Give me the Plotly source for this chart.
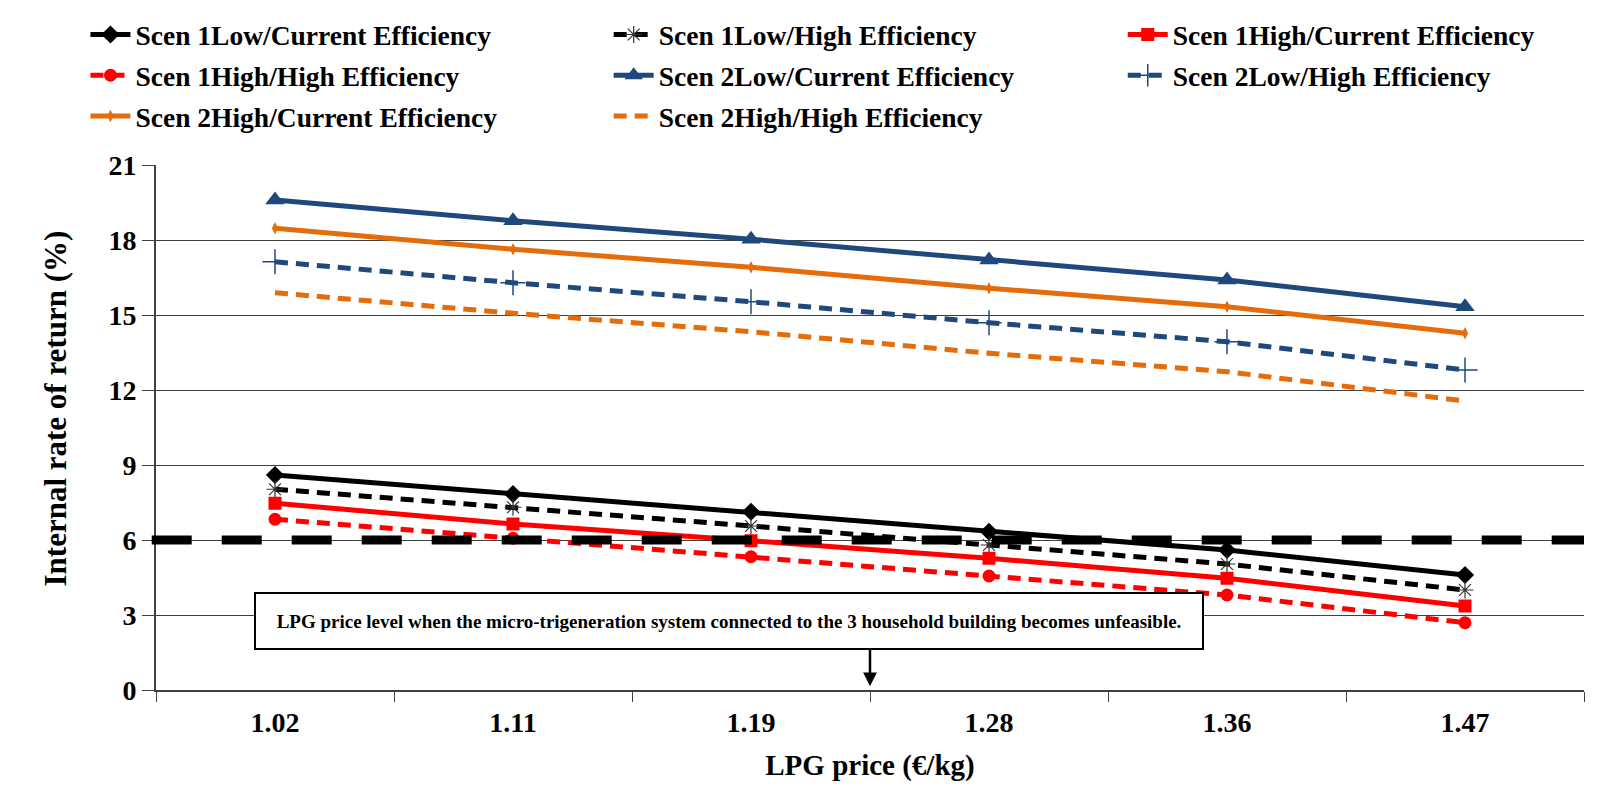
import plotly.graph_objects as go

# ---------------- data ----------------
prices = ["1.02", "1.11", "1.19", "1.28", "1.36", "1.47"]

s1_low_current = [8.60, 7.84, 7.13, 6.33, 5.60, 4.60]
s1_low_high = [8.03, 7.31, 6.56, 5.80, 5.04, 4.00]
s1_high_current = [7.47, 6.64, 5.97, 5.27, 4.47, 3.36]
s1_high_high = [6.83, 6.07, 5.33, 4.56, 3.80, 2.69]
s2_low_current = [19.60, 18.77, 18.03, 17.20, 16.40, 15.33]
s2_low_high = [17.13, 16.29, 15.53, 14.69, 13.93, 12.80]
s2_high_current = [18.47, 17.63, 16.91, 16.07, 15.33, 14.27]
s2_high_high = [15.89, 15.07, 14.33, 13.47, 12.73, 11.56]

threshold_irr = 6
y_tick_values = [0, 3, 6, 9, 12, 15, 18, 21]
unfeasible_price_pos = 2.5  # between 1.19 and 1.28
y_title = "Internal rate of return (%)"
x_title = "LPG price (€/kg)"
note_text = ("LPG price level when the micro-trigeneration system connected "
             "to the 3 household building becomes unfeasible.")

FONT = "Liberation Serif, Times New Roman, serif"
BLACK = "#000000"
RED = "#FF0000"
BLUE = "#1F497D"
ORANGE = "#E46C0A"
DASH = "13px,8px"

fig = go.Figure()

series = [
    ("Scen 1Low/Current Efficiency", s1_low_current, BLACK, "solid",
     dict(symbol="diamond", size=14, color=BLACK), "legend", "g1"),
    ("Scen 1Low/High Efficiency", s1_low_high, BLACK, DASH,
     dict(symbol="asterisk-open", size=14, color="#333333", line=dict(width=1.2, color="#333333")), "legend2", "g2"),
    ("Scen 1High/Current Efficiency", s1_high_current, RED, "solid",
     dict(symbol="square", size=13, color=RED), "legend3", "g3"),
    ("Scen 1High/High Efficiency", s1_high_high, RED, DASH,
     dict(symbol="circle", size=13, color=RED), "legend", "g4"),
    ("Scen 2Low/Current Efficiency", s2_low_current, BLUE, "solid",
     dict(symbol="triangle-up", size=17, color=BLUE), "legend2", "g5"),
    ("Scen 2Low/High Efficiency", s2_low_high, BLUE, DASH,
     dict(symbol="cross-thin-open", size=18, color=BLUE, line=dict(width=1.5, color=BLUE)), "legend3", "g6"),
    ("Scen 2High/Current Efficiency", s2_high_current, ORANGE, "solid",
     dict(symbol="diamond-tall", size=9, color=ORANGE), "legend", "g7"),
    ("Scen 2High/High Efficiency", s2_high_high, ORANGE, DASH,
     None, "legend2", "g8"),
]

for name, vals, color, dash, marker, leg, grp in series:
    kw = dict(x=prices, y=vals, name=name, legend=leg, legendgroup=grp,
              line=dict(color=color, width=5, dash=dash))
    if marker is None:
        kw["mode"] = "lines"
    else:
        kw["mode"] = "lines+markers"
        kw["marker"] = marker
    fig.add_trace(go.Scatter(**kw))

# threshold line at 6 %
fig.add_shape(type="line", xref="x domain", yref="y", x0=-0.003, x1=1, y0=threshold_irr, y1=threshold_irr,
              line=dict(color=BLACK, width=9, dash="40px,30px"), layer="above")

# note box
fig.add_annotation(x=1.906, y=2.76, xref="x", yref="y", text="<b>" + note_text + "</b>",
                   showarrow=False, font=dict(family=FONT, size=19, color=BLACK),
                   bordercolor=BLACK, borderwidth=2, borderpad=4, bgcolor="white",
                   width=938, height=46, align="center")
# arrow
fig.add_annotation(x=unfeasible_price_pos, y=0.15, xref="x", yref="y", text="", showarrow=True,
                   ax=0, ay=-38, arrowhead=2, arrowsize=1.1, arrowwidth=2.5, arrowcolor=BLACK)

# y-axis title (placed as rotated text, slightly above plot centre as in the original)
fig.add_annotation(x=-0.0701, y=0.536, xref="paper", yref="paper", text=y_title, textangle=-90,
                   showarrow=False, xanchor="center", yanchor="middle",
                   font=dict(family=FONT, size=31, color=BLACK, weight="bold"))

legend_font = dict(family=FONT, size=27.5, color=BLACK, weight="bold")
leg_common = dict(font=legend_font, bgcolor="rgba(0,0,0,0)", yanchor="top", y=1.295,
                  xanchor="left", traceorder="grouped", tracegroupgap=2, itemwidth=40)

fig.update_layout(
    width=1609, height=790,
    paper_bgcolor="white", plot_bgcolor="white",
    margin=dict(l=148, r=33, t=157, b=108, autoexpand=False),
    font=dict(family=FONT, color=BLACK),
    legend=dict(x=-0.0494, **leg_common),
    legend2=dict(x=0.317, **leg_common),
    legend3=dict(x=0.677, **leg_common),
    xaxis=dict(
        type="category", categoryorder="array", categoryarray=prices,
        range=[-0.5, 5.5], automargin=False,
        showline=True, linecolor="#404040", linewidth=2,
        ticks="outside", tickson="boundaries", ticklen=10, tickcolor="#404040", tickwidth=1,
        showgrid=False, ticklabelstandoff=6,
        tickfont=dict(family=FONT, size=28, color=BLACK, weight="bold"),
        title=dict(text=x_title, font=dict(family=FONT, size=29, color=BLACK, weight="bold"),
                   standoff=18),
    ),
    yaxis=dict(
        range=[0, 21], tickvals=y_tick_values, automargin=False,
        showline=True, linecolor="#404040", linewidth=2,
        ticks="outside", ticklen=12, tickcolor="#404040", tickwidth=1,
        showgrid=True, gridcolor="#404040", gridwidth=1.3,
        zeroline=False,
        tickfont=dict(family=FONT, size=28, color=BLACK, weight="bold"),
    ),
)

fig.write_html("out.html")
